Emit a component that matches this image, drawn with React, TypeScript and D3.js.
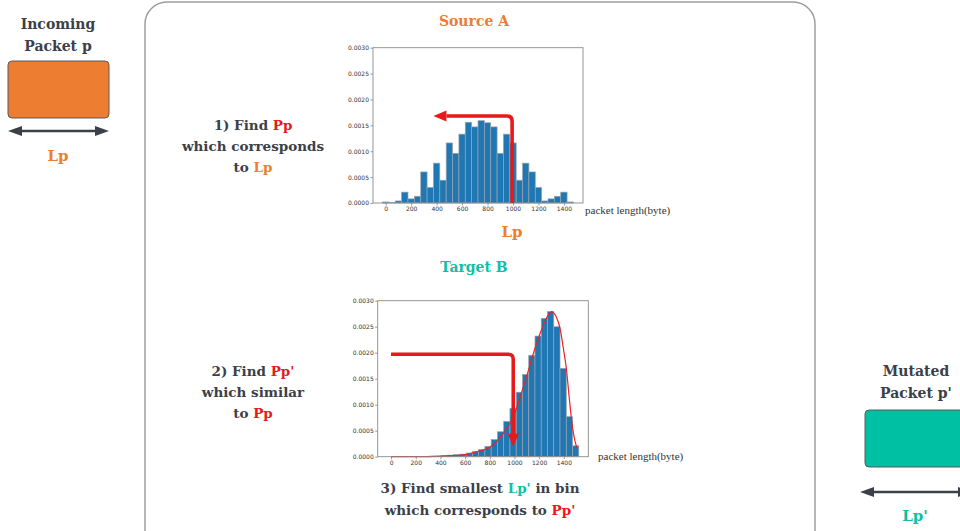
import React, { useRef, useEffect } from "react";
import * as d3 from "d3";

// source A histogram: 30 bins of 50 bytes, first centred on 0
const sourceBinStart = -25;
const sourceBinWidth = 50;
const sourceDensity = [
  0.00002, 0.00001, 0.00004, 0.00021, 0.00008, 0.00013, 0.0006, 0.0003, 0.00077, 0.00044,
  0.00116, 0.00096, 0.00133, 0.00156, 0.00147, 0.00159, 0.00155, 0.00147, 0.00096, 0.00133,
  0.00116, 0.00044, 0.00077, 0.0006, 0.0003, 0.00004, 0.00008, 0.00013, 0.00021, 0.00002,
];

// target B histogram: 30 bins from 0 to ~1520
const targetBinStart = 0;
const targetBinWidth = 50.7;
const targetDensity = [
  0, 0, 0, 0, 0, 0, 0.00001, 0.00001, 0.00002, 0.00003,
  0.00004, 0.00005, 0.00007, 0.0001, 0.00014, 0.0002, 0.00033, 0.00048, 0.00068, 0.00093,
  0.00124, 0.00158, 0.00195, 0.00232, 0.00266, 0.00279, 0.0025, 0.0017, 0.00077, 0.00021,
];

// kde of target B
const targetKde: [number, number][] = [
  [0, 0], [300, 0.000003], [500, 0.00002], [600, 0.00004], [700, 0.0001], [800, 0.00018],
  [900, 0.00042], [1000, 0.00082], [1050, 0.00118], [1100, 0.00156], [1150, 0.00196],
  [1200, 0.00232], [1250, 0.00262], [1300, 0.00279], [1340, 0.00268], [1370, 0.00246],
  [1395, 0.0021], [1420, 0.0017], [1445, 0.0011], [1465, 0.00066], [1490, 0.0003], [1510, 0.00015],
];

const xTicks = [0, 200, 400, 600, 800, 1000, 1200, 1400];
const yTicks = [0, 0.0005, 0.001, 0.0015, 0.002, 0.0025, 0.003];

// red arrows, data coords of each chart
const sourceArrow: [number, number][] = [[993, 0], [993, 0.00168], [375, 0.00168]];
const targetArrow: [number, number][] = [[0, 0.00197], [990, 0.00197], [990, 0.00019]];

const RED = "#e8191b";
const ORANGE = "#ed7d31";
const TEAL = "#12bfa3";
const DARK = "#3b4048";
const SERIF = "'DejaVu Serif', serif";

interface HistProps {
  left: number;
  right: number;
  top: number;
  bottom: number;
  xDomain: [number, number];
  binStart: number;
  binWidth: number;
  density: number[];
  arrow: [number, number][];
  kde?: [number, number][];
}

function arrowPath(pts: [number, number][], headLen: number): { line: string; head: string } {
  const [a, b, c] = pts;
  const r = 5;
  const dx1 = Math.sign(b[0] - a[0]), dy1 = Math.sign(b[1] - a[1]);
  const dx2 = Math.sign(c[0] - b[0]), dy2 = Math.sign(c[1] - b[1]);
  const end: [number, number] = [c[0] - dx2 * headLen, c[1] - dy2 * headLen];
  const line =
    `M${a[0]},${a[1]} L${b[0] - dx1 * r},${b[1] - dy1 * r} ` +
    `Q${b[0]},${b[1]} ${b[0] + dx2 * r},${b[1] + dy2 * r} L${end[0]},${end[1]}`;
  const w = 5.5;
  // perpendicular
  const px = -dy2, py = dx2;
  const head =
    `M${c[0]},${c[1]} L${end[0] + px * w},${end[1] + py * w} L${end[0] - px * w},${end[1] - py * w} Z`;
  return { line, head };
}

const Hist: React.FC<HistProps> = ({ left, right, top, bottom, xDomain, binStart, binWidth, density, arrow, kde }) => {
  const gRef = useRef<SVGGElement | null>(null);

  useEffect(() => {
    const g = d3.select(gRef.current);
    g.selectAll("*").remove();

    const x = d3.scaleLinear().domain(xDomain).range([left, right]);
    const y = d3.scaleLinear().domain([0, 0.003]).range([bottom, top]);

    g.selectAll("rect.bar")
      .data(density)
      .enter()
      .append("rect")
      .attr("class", "bar")
      .attr("x", (d, i) => x(binStart + i * binWidth))
      .attr("width", x(binWidth) - x(0))
      .attr("y", (d) => y(d))
      .attr("height", (d) => bottom - y(d))
      .attr("fill", "#1f77b4")
      .attr("stroke", "#9aa3ad")
      .attr("stroke-width", 0.7);

    if (kde) {
      const line = d3.line<[number, number]>()
        .x((d) => x(d[0]))
        .y((d) => y(d[1]))
        .curve(d3.curveMonotoneX);
      g.append("path")
        .attr("d", line(kde))
        .attr("fill", "none")
        .attr("stroke", "#ee2222")
        .attr("stroke-width", 1.2);
    }

    const xAxis = g.append("g")
      .attr("transform", `translate(0,${bottom})`)
      .call(d3.axisBottom(x).tickValues(xTicks).tickSize(2.5).tickPadding(1.5).tickFormat(d3.format("d")));
    const yAxis = g.append("g")
      .attr("transform", `translate(${left},0)`)
      .call(d3.axisLeft(y).tickValues(yTicks).tickSize(2.5).tickPadding(1.5).tickFormat(d3.format(".4f")));
    [xAxis, yAxis].forEach((ax) => {
      ax.select(".domain").remove();
      ax.selectAll("line").attr("stroke", "#555").attr("stroke-width", 0.6);
      ax.selectAll("text")
        .attr("fill", "#333")
        .style("font-family", "'DejaVu Sans', sans-serif")
        .style("font-size", "6px");
    });

    g.append("rect")
      .attr("x", left)
      .attr("y", top)
      .attr("width", right - left)
      .attr("height", bottom - top)
      .attr("fill", "none")
      .attr("stroke", "#8a8a8a")
      .attr("stroke-width", 0.9);

    const pts = arrow.map((p) => [x(p[0]), y(p[1])] as [number, number]);
    const { line, head } = arrowPath(pts, 13);
    g.append("path")
      .attr("d", line)
      .attr("fill", "none")
      .attr("stroke", RED)
      .attr("stroke-width", 3.6);
    g.append("path").attr("d", head).attr("fill", RED);
  }, [left, right, top, bottom, xDomain, binStart, binWidth, density, arrow, kde]);

  return <g ref={gRef} />;
};

const T: React.FC<{ x: number; y: number; size?: number; children: React.ReactNode }> = ({ x, y, size = 13.5, children }) => (
  <text x={x} y={y} textAnchor="middle" fontFamily={SERIF} fontWeight="bold" fontSize={size} fill={DARK}>
    {children}
  </text>
);

const DoubleArrow: React.FC<{ x1: number; x2: number; y: number }> = ({ x1, x2, y }) => (
  <g fill={DARK}>
    <line x1={x1 + 8} x2={x2 - 8} y1={y} y2={y} stroke={DARK} strokeWidth={2.5} />
    <path d={`M${x1},${y} L${x1 + 14},${y - 5} L${x1 + 14},${y + 5} Z`} />
    <path d={`M${x2},${y} L${x2 - 14},${y - 5} L${x2 - 14},${y + 5} Z`} />
  </g>
);

export default function App() {
  return (
    <svg width={960} height={531} style={{ position: "absolute", left: 0, top: 0, background: "#fff" }}>
      {/* big frame */}
      <rect x={145} y={2} width={670} height={560} rx={22} fill="none" stroke="#9c9ea3" strokeWidth={1.5} />

      {/* incoming packet */}
      <T x={58} y={29} size={14}>Incoming</T>
      <T x={58} y={51} size={14}>Packet p</T>
      <rect x={8} y={61} width={101} height={57} rx={4} fill={ORANGE} stroke="#5a5a5a" strokeWidth={1} />
      <DoubleArrow x1={8} x2={109} y={131} />
      <text x={58} y={161} textAnchor="middle" fontFamily={SERIF} fontWeight="bold" fontSize={15} fill={ORANGE}>Lp</text>

      {/* mutated packet */}
      <T x={916} y={376} size={14}>Mutated</T>
      <T x={916} y={398} size={14}>Packet p'</T>
      <rect x={865} y={410} width={110} height={57} rx={4} fill="#00c0a3" stroke="#5a5a5a" strokeWidth={1} />
      <DoubleArrow x1={860} x2={972} y={492} />
      <text x={915} y={521} textAnchor="middle" fontFamily={SERIF} fontWeight="bold" fontSize={15} fill={TEAL}>Lp'</text>

      {/* titles */}
      <text x={474} y={26} textAnchor="middle" fontFamily={SERIF} fontWeight="bold" fontSize={14} fill={ORANGE}>Source A</text>
      <text x={474} y={272} textAnchor="middle" fontFamily={SERIF} fontWeight="bold" fontSize={14} fill={TEAL}>Target B</text>

      {/* step texts */}
      <T x={253} y={130}>1) Find <tspan fill={RED}>Pp</tspan></T>
      <T x={253} y={151}>which corresponds</T>
      <T x={253} y={172}>to <tspan fill={ORANGE}>Lp</tspan></T>

      <T x={253} y={376}>2) Find <tspan fill={RED}>Pp'</tspan></T>
      <T x={253} y={397}>which similar</T>
      <T x={253} y={418}>to <tspan fill={RED}>Pp</tspan></T>

      <T x={480} y={493}>3) Find smallest <tspan fill={TEAL}>Lp'</tspan> in bin</T>
      <T x={480} y={515}>which corresponds to <tspan fill={RED}>Pp'</tspan></T>

      <text x={512} y={237} textAnchor="middle" fontFamily={SERIF} fontWeight="bold" fontSize={15} fill={ORANGE}>Lp</text>

      {/* histograms */}
      <Hist left={373} right={583} top={47.7} bottom={203} xDomain={[-100, 1550]}
        binStart={sourceBinStart} binWidth={sourceBinWidth} density={sourceDensity} arrow={sourceArrow} />
      <Hist left={377.7} right={588.3} top={300.7} bottom={456.7} xDomain={[-108, 1598]}
        binStart={targetBinStart} binWidth={targetBinWidth} density={targetDensity} arrow={targetArrow} kde={targetKde} />

      <text x={585} y={214} fontFamily="'Liberation Serif', serif" fontSize={11} fill="#333">packet length(byte)</text>
      <text x={598} y={460} fontFamily="'Liberation Serif', serif" fontSize={11} fill="#333">packet length(byte)</text>
    </svg>
  );
}
